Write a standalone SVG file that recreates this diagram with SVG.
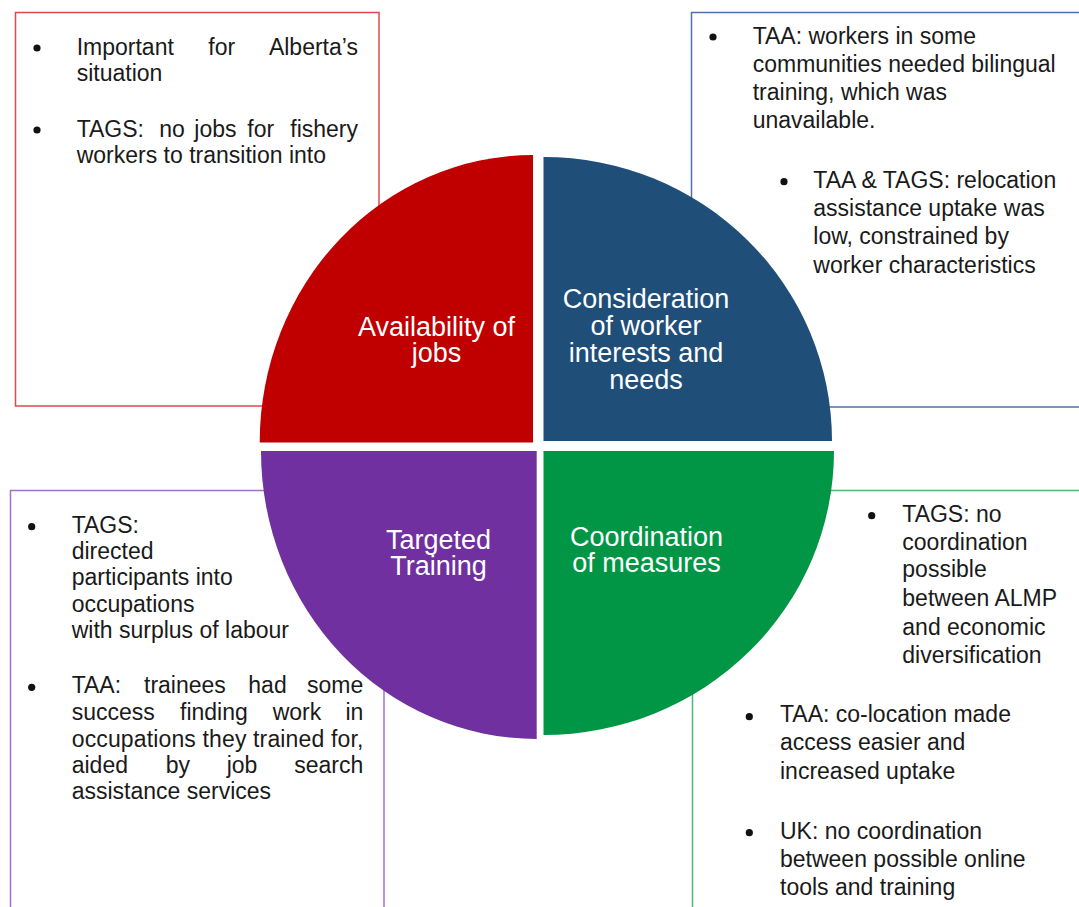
<svg xmlns="http://www.w3.org/2000/svg" width="1079" height="907" viewBox="0 0 1079 907">
  <style>
    .box { fill: #ffffff; stroke-width: 1.5; }
    .body { font-family: "Liberation Sans", Arial, sans-serif; font-size: 23px; fill: #1a1a1a; }
    .label { font-family: "Liberation Sans", Arial, sans-serif; font-size: 27px; fill: #ffffff; text-anchor: middle; }
    .dot { fill: #111111; }
  </style>
  <rect width="1079" height="907" fill="#ffffff"/>

  <!-- Note boxes sit behind the circle -->
  <g id="box-jobs">
    <rect class="box" x="15.5" y="12.5" width="363.5" height="393.5" stroke="#E0474B"/>
    <circle class="dot" cx="37" cy="48" r="3.6"/>
    <text class="body" y="55"><tspan x="76.7">Important</tspan><tspan x="208.3">for</tspan><tspan x="358" text-anchor="end">Alberta’s</tspan></text>
    <text class="body" x="76.7" y="81">situation</text>
    <circle class="dot" cx="37" cy="130" r="3.6"/>
    <text class="body" y="137"><tspan x="76.7">TAGS:</tspan><tspan x="159.3">no</tspan><tspan x="194.3">jobs</tspan><tspan x="247.3">for</tspan><tspan x="358" text-anchor="end">fishery</tspan></text>
    <text class="body" x="76.7" y="163">workers to transition into</text>
  </g>

  <g id="box-interests">
    <rect class="box" x="691.5" y="12.5" width="400" height="394.5" stroke="#4C74A8"/>
    <circle class="dot" cx="713" cy="37" r="3.6"/>
    <text class="body" x="752.7" y="44.3">TAA: workers in some</text>
    <text class="body" x="752.7" y="72">communities needed bilingual</text>
    <text class="body" x="752.7" y="99.5">training, which was</text>
    <text class="body" x="752.7" y="128">unavailable.</text>
    <circle class="dot" cx="784" cy="181.7" r="3.6"/>
    <text class="body" x="813.3" y="188.3">TAA &amp; TAGS: relocation</text>
    <text class="body" x="813.3" y="216">assistance uptake was</text>
    <text class="body" x="813.3" y="244.3">low, constrained by</text>
    <text class="body" x="813.3" y="272.7">worker characteristics</text>
  </g>

  <g id="box-training">
    <rect class="box" x="10.5" y="490.5" width="373.5" height="430" stroke="#9E72CB"/>
    <circle class="dot" cx="31.7" cy="526.7" r="3.6"/>
    <text class="body" x="71.7" y="532.7">TAGS:</text>
    <text class="body" x="71.7" y="559">directed</text>
    <text class="body" x="71.7" y="585.3">participants into</text>
    <text class="body" x="71.7" y="611.7">occupations</text>
    <text class="body" x="71.7" y="637.7">with surplus of labour</text>
    <circle class="dot" cx="31.7" cy="687.3" r="3.6"/>
    <text class="body" y="693.3"><tspan x="71.7">TAA:</tspan><tspan x="144">trainees</tspan><tspan x="248.3">had</tspan><tspan x="363.3" text-anchor="end">some</tspan></text>
    <text class="body" y="720"><tspan x="71.7">success</tspan><tspan x="180">finding</tspan><tspan x="272.7">work</tspan><tspan x="363.3" text-anchor="end">in</tspan></text>
    <text class="body" x="71.7" y="746.7" textLength="291.6" lengthAdjust="spacing">occupations they trained for,</text>
    <text class="body" y="773.3"><tspan x="71.7">aided</tspan><tspan x="165.7">by</tspan><tspan x="226.7">job</tspan><tspan x="363.3" text-anchor="end">search</tspan></text>
    <text class="body" x="71.7" y="799.3">assistance services</text>
  </g>

  <g id="box-coordination">
    <rect class="box" x="692.5" y="490.5" width="400" height="430" stroke="#4DB873"/>
    <circle class="dot" cx="871.7" cy="515.7" r="3.6"/>
    <text class="body" x="902.3" y="522.3">TAGS: no</text>
    <text class="body" x="902.3" y="550">coordination</text>
    <text class="body" x="902.3" y="577.3">possible</text>
    <text class="body" x="902.3" y="606">between ALMP</text>
    <text class="body" x="902.3" y="635">and economic</text>
    <text class="body" x="902.3" y="662.7">diversification</text>
    <circle class="dot" cx="749.3" cy="716.7" r="3.6"/>
    <text class="body" x="780" y="722.3">TAA: co-location made</text>
    <text class="body" x="780" y="750">access easier and</text>
    <text class="body" x="780" y="779">increased uptake</text>
    <circle class="dot" cx="749.3" cy="832.7" r="3.6"/>
    <text class="body" x="780" y="839">UK: no coordination</text>
    <text class="body" x="780" y="866.7">between possible online</text>
    <text class="body" x="780" y="895">tools and training</text>
  </g>

  <!-- Four quarter segments of the central circle -->
  <g id="quadrant-jobs">
    <path d="M533,442.5 L259.7,442.5 A273.3,287.5 0 0 1 533,155 Z" fill="#C00000"/>
    <text class="label" x="436.5" y="336">Availability of</text>
    <text class="label" x="436.5" y="362">jobs</text>
  </g>
  <g id="quadrant-interests">
    <path d="M543.5,441 L543.5,157 A288.5,284 0 0 1 832,441 Z" fill="#1F4E79"/>
    <text class="label" x="646" y="308">Consideration</text>
    <text class="label" x="646" y="334.5">of worker</text>
    <text class="label" x="646" y="361.5">interests and</text>
    <text class="label" x="646" y="388.5">needs</text>
  </g>
  <g id="quadrant-training">
    <path d="M536.7,451 L536.7,739 A275.7,288 0 0 1 261,451 Z" fill="#7030A0"/>
    <text class="label" x="438.5" y="548.5">Targeted</text>
    <text class="label" x="438.5" y="575">Training</text>
  </g>
  <g id="quadrant-coordination">
    <path d="M543.5,451 L834,451 A290.5,284 0 0 1 543.5,735 Z" fill="#009645"/>
    <text class="label" x="646.5" y="545.5">Coordination</text>
    <text class="label" x="646.5" y="571.5">of measures</text>
  </g>

  <g id="connectors"/>
</svg>
